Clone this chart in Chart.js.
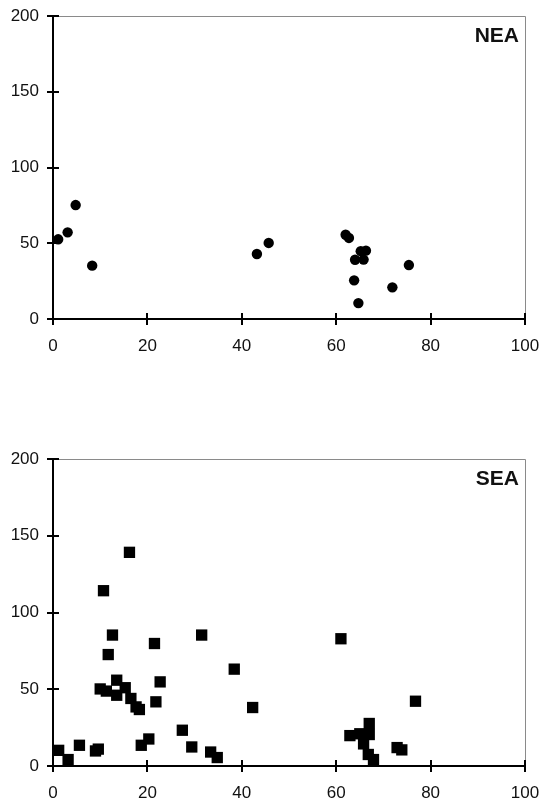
<!DOCTYPE html>
<html>
<head>
<meta charset="utf-8">
<script src="https://cdn.jsdelivr.net/npm/chart.js@4.4.1/dist/chart.umd.min.js"></script>
<style>
  html, body { margin: 0; padding: 0; background: #fff; }
  #wrap { position: relative; width: 542px; height: 803px; overflow: hidden; }
  .box { position: absolute; left: 0; width: 542px; }
  #b1 { top: 0; height: 360px; }
  #b2 { top: 420px; height: 383px; }
</style>
</head>
<body>
<div id="wrap">
  <div class="box" id="b1"><canvas id="c1" width="542" height="360"></canvas></div>
  <div class="box" id="b2"><canvas id="c2" width="542" height="383"></canvas></div>
</div>
<script>
// ---- data ----
const xTicks = [0, 20, 40, 60, 80, 100];
const yTicks = [0, 50, 100, 150, 200];

const neaLabel = 'NEA';
const neaX = [1.1, 3.1, 4.8, 8.3, 43.2, 45.7, 62.0, 62.7, 65.2, 66.3, 64.0, 65.8, 75.4, 63.8, 71.9, 64.7];
const neaY = [52.6, 57.2, 75.2, 35.2, 42.9, 50.2, 55.6, 53.5, 44.8, 45.1, 39.1, 39.2, 35.6, 25.5, 20.9, 10.5];

const seaLabel = 'SEA';
const seaX = [1.2, 3.2, 5.6, 9.0, 9.6, 10.0, 10.7, 11.3, 11.7, 12.6, 13.5, 13.5, 15.3, 16.2, 16.5, 17.6, 18.3, 18.7, 20.3, 21.5, 21.8, 22.7, 27.4, 29.4, 31.5, 33.4, 34.8, 38.4, 42.3, 61.0, 62.9, 65.0, 67.0, 67.0, 65.8, 66.8, 67.9, 72.9, 73.9, 76.8];
const seaY = [10.2, 4.2, 13.5, 9.8, 11.0, 50.2, 114.2, 48.8, 72.6, 85.3, 55.9, 46.1, 51.0, 139.2, 44.0, 38.5, 36.8, 13.5, 17.6, 79.8, 41.8, 54.8, 23.3, 12.4, 85.3, 9.1, 5.5, 63.1, 38.1, 82.9, 19.8, 21.0, 27.7, 20.5, 14.4, 7.5, 4.2, 12.0, 10.5, 42.2];

const FONT = '"Liberation Sans", Arial, Helvetica, sans-serif';

// crossing tick marks + thin top/right frame + panel label
const decor = {
  id: 'decor',
  afterDraw(chart, args, opts) {
    const ctx = chart.ctx;
    const a = chart.chartArea;
    ctx.save();
    ctx.strokeStyle = '#8a8a8a';
    ctx.lineWidth = 1;
    ctx.beginPath();
    ctx.moveTo(a.left, a.top + 0.5);
    ctx.lineTo(a.right + 0.5, a.top + 0.5);
    ctx.lineTo(a.right + 0.5, a.bottom);
    ctx.stroke();
    ctx.strokeStyle = '#000';
    ctx.lineWidth = 2;
    const xs = chart.scales.x, ys = chart.scales.y;
    ctx.beginPath();
    xs.ticks.forEach(t => {
      const px = Math.round(xs.getPixelForValue(t.value));
      ctx.moveTo(px, a.bottom - 6);
      ctx.lineTo(px, a.bottom + 6);
    });
    ys.ticks.forEach(t => {
      const py = Math.round(ys.getPixelForValue(t.value));
      ctx.moveTo(a.left - 6, py);
      ctx.lineTo(a.left + 6, py);
    });
    ctx.stroke();
    ctx.fillStyle = '#111';
    ctx.font = 'bold 21px ' + FONT;
    ctx.textAlign = 'right';
    ctx.textBaseline = 'middle';
    ctx.fillText(opts.text, a.right - 6, a.top + opts.dy);
    ctx.restore();
  }
};

function makeChart(id, xs, ys, label, style, radius, padTop, xAxisH, labelDy) {
  const pts = xs.map((x, i) => ({ x: x, y: ys[i] }));
  return new Chart(document.getElementById(id), {
    type: 'scatter',
    data: {
      datasets: [{
        label: label,
        data: pts,
        pointStyle: style,
        pointRadius: radius,
        pointHoverRadius: radius,
        backgroundColor: '#000',
        borderColor: '#000',
        borderWidth: 0
      }]
    },
    options: {
      responsive: false,
      animation: false,
      events: [],
      layout: { padding: { top: padTop, right: 17, left: 0, bottom: 0 } },
      plugins: {
        legend: { display: false },
        tooltip: { enabled: false },
        decor: { text: label, dy: labelDy }
      },
      scales: {
        x: {
          type: 'linear',
          min: 0, max: 100,
          afterBuildTicks: s => { s.ticks = xTicks.map(v => ({ value: v })); },
          afterFit: s => { s.height = xAxisH; s.paddingLeft = 0; s.paddingRight = 0; },
          grid: { display: false, drawTicks: false },
          border: { display: true, color: '#000', width: 2 },
          ticks: { padding: 17, color: '#111', font: { family: FONT, size: 17 }, maxRotation: 0 }
        },
        y: {
          type: 'linear',
          min: 0, max: 200,
          afterBuildTicks: s => { s.ticks = yTicks.map(v => ({ value: v })); },
          afterFit: s => { s.width = 53; s.paddingTop = 0; s.paddingBottom = 0; },
          grid: { display: false, drawTicks: false },
          border: { display: true, color: '#000', width: 2 },
          ticks: { padding: 14, color: '#111', font: { family: FONT, size: 17 } }
        }
      }
    },
    plugins: [decor]
  });
}

makeChart('c1', neaX, neaY, neaLabel, 'circle', 5.2, 16, 41, 20);
makeChart('c2', seaX, seaY, seaLabel, 'rect', 8, 39, 37, 20);
</script>
</body>
</html>
